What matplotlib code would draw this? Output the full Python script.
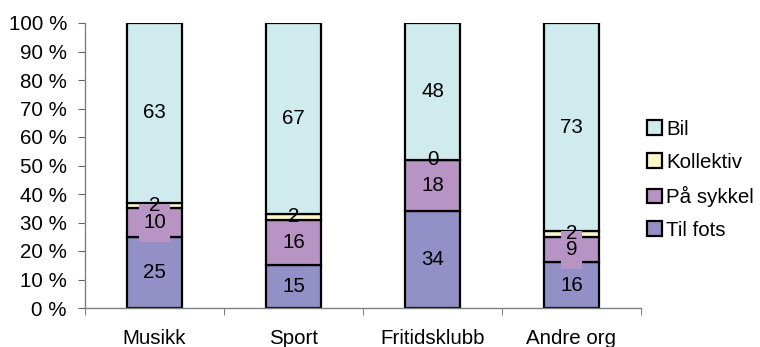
import matplotlib
matplotlib.use("Agg")
import matplotlib.pyplot as plt
from matplotlib.patches import Rectangle
from matplotlib.ticker import FixedLocator, NullFormatter
import numpy as np

plt.rcParams['font.family'] = ['Liberation Sans', 'DejaVu Sans']

categories = ["Musikk", "Sport", "Fritidsklubb", "Andre org"]
series_names = ["Til fots", "På sykkel", "Kollektiv", "Bil"]
til_fots = [25, 15, 34, 16]
paa_sykkel = [10, 16, 18, 9]
kollektiv = [2, 2, 0, 2]
bil = [63, 67, 48, 73]
y_ticks = [0, 10, 20, 30, 40, 50, 60, 70, 80, 90, 100]
y_tick_labels = [f"{v} %" for v in y_ticks]

colors = ["#9290C6", "#B894C4", "#FAF7CB", "#CFEBEE"]
FS = 14.8
W, H = 760, 347

fig = plt.figure(figsize=(W / 100, H / 100), dpi=100)
ax = fig.add_axes([85 / W, 1 - 308 / H, 556 / W, 285 / H])

x = np.arange(len(categories))
bottom = np.zeros(len(categories))
all_series = [til_fots, paa_sykkel, kollektiv, bil]
handles = []
labels = []  # (text artist, fill colour, segment value)
for name, vals, col in zip(series_names, all_series, colors):
    vals = np.array(vals, dtype=float)
    bars = ax.bar(x, vals, width=0.4, bottom=bottom, color=col,
                  edgecolor="black", linewidth=1.6, label=name, zorder=2)
    handles.append(bars)
    for xi, b, v in zip(x, bottom, vals):
        t = ax.text(xi, b + v / 2, f"{int(v)}", ha="center", va="center",
                    fontsize=FS, color="black", zorder=5)
        labels.append((t, col, v))
    bottom += vals

ax.set_xlim(-0.5, len(categories) - 0.5)
ax.set_ylim(0, 100)
ax.set_yticks(y_ticks)
ax.set_yticklabels(y_tick_labels, fontsize=FS)
ax.set_xticks(x)
ax.set_xticklabels(categories, fontsize=FS)
ax.tick_params(axis="x", length=0, pad=15)
ax.xaxis.set_minor_locator(FixedLocator(np.arange(-0.5, len(categories), 1.0)))
ax.xaxis.set_minor_formatter(NullFormatter())
ax.tick_params(axis="x", which="minor", length=5, direction="out", color="#666666")
ax.tick_params(axis="y", length=5, direction="out", color="#666666", pad=8)

for side in ["top", "right"]:
    ax.spines[side].set_visible(False)
for side in ["left", "bottom"]:
    ax.spines[side].set_color("#808080")
    ax.spines[side].set_linewidth(1.0)

# filled label boxes, sized from the rendered text
fig.canvas.draw()
renderer = fig.canvas.get_renderer()
for t, col, v in labels:
    if v < 5:
        continue
    bb = t.get_window_extent(renderer)
    cx = (bb.x0 + bb.x1) / 2
    cy = (bb.y0 + bb.y1) / 2
    bw = bb.width + 9
    bh = 38
    rect = Rectangle(((cx - bw / 2) / W, (cy - bh / 2) / H), bw / W, bh / H,
                     transform=fig.transFigure, facecolor=col,
                     edgecolor="none", zorder=3)
    ax.add_patch(rect)

leg = fig.legend(handles[::-1], series_names[::-1], loc="center left",
                 bbox_to_anchor=(647 / W, 1 - 180 / H), frameon=False,
                 fontsize=FS, handlelength=0.72, handleheight=0.72,
                 handletextpad=0.2, labelspacing=0.68, borderaxespad=0,
                 borderpad=0)
for h in leg.legend_handles:
    h.set_linewidth(1.6)

fig.savefig("out.png", dpi=100)
